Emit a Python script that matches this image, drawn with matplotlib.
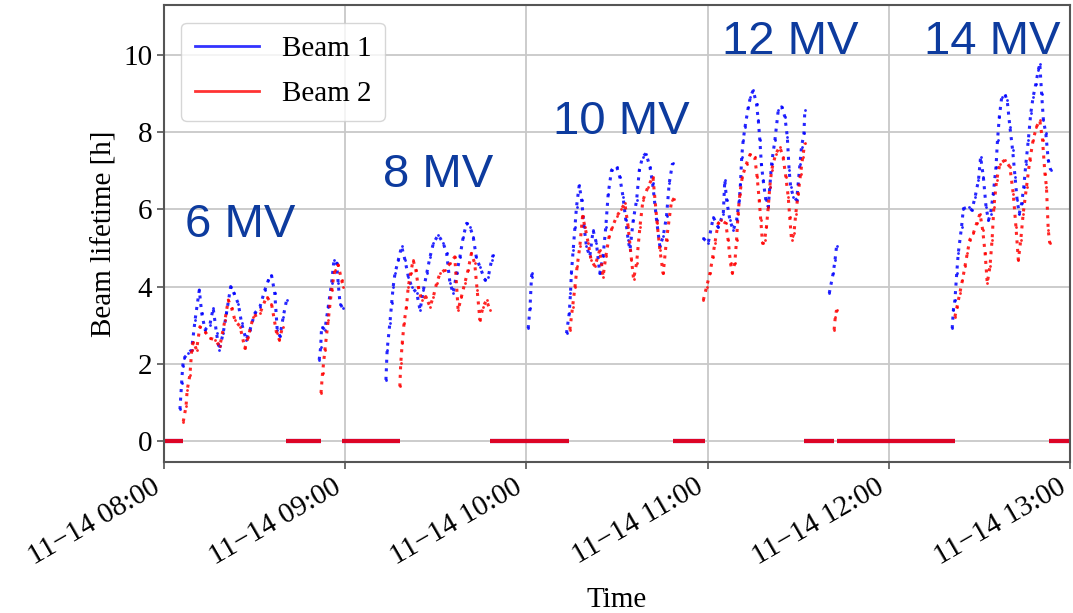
import matplotlib
matplotlib.use('Agg')
import matplotlib.pyplot as plt
import matplotlib.dates as mdates
from datetime import datetime

nan = float('nan')

# minutes after 08:00, nan splits the fills
beam1_t = [5.3, 5.85, 6.2, 6.6, 8.06, 9.16, 10.3, 11.7, 12.5, 13.6, 15.2, 16.3, 17.4, 18.3, 19.6, 20.7,
           22.1, 23.2, 24.6, 25.7, 27.2, 28.5, 30.1, 31.8, 33.4, 34.6, 35.6, 36.7, 37.5, 38.4, 39.5, 40.6, nan,
           51.4, 51.9, 52.2, 53.3, 54.4, 55.5, 56.3, 57.2, 57.7, 58.3, 59.2, nan,
           73.5, 73.9, 74.8, 75.4, 75.9, 76.5, 77.6, 78.7, 79.8, 80.9, 82.0, 83.7, 84.8, 85.9, 87.0, 88.1,
           89.2, 90.8, 92.5, 93.6, 94.7, 95.8, 96.9, 98.0, 99.1, 100.2, 101.3, 102.4, 103.4, 104.6, 106.3,
           107.4, 108.5, 109.0, nan,
           120.6, 121.2, 121.7, 121.9, nan,
           133.3, 134.2, 134.6, 134.9, 135.5, 136.1, 136.6, 137.5, 138.3, 139.1, 139.9, 141.0, 142.1, 143.2,
           144.3, 145.4, 146.3, 147.1, 148.2, 149.9, 150.9, 152.0, 152.9, 153.7, 154.3, 155.4, 156.5, 157.4,
           158.5, 159.6, 160.9, 161.8, 163.1, 164.2, 165.3, 166.4, 167.3, 168.4, nan,
           178.6, 180.2, 181.9, 183.5, 185.2, 185.7, 186.3, 187.4, 188.5, 189.6, 190.5, 190.9, 191.3, 191.8,
           192.4, 193.5, 194.2, 195.1, 196.2, 196.8, 197.3, 197.8, 198.4, 199.3, 200.1, 200.6, 201.2, 202.3,
           203.4, 204.5, 205.6, 206.4, 207.0, 207.5, 208.4, 209.5, 210.0, 210.6, 211.1, 211.9, 212.2, nan,
           220.3, 221.6, 222.2, 222.7, nan,
           261.0, 261.4, 261.9, 262.5, 263.0, 264.1, 264.7, 266.4, 267.5, 268.6, 269.7, 270.4, 271.3, 272.2,
           273.0, 273.7, 274.6, 275.5, 276.0, 276.6, 277.4, 278.5, 279.2, 280.1, 281.0, 281.8, 282.5, 283.2,
           284.0, 284.7, 285.4, 286.2, 287.0, 287.8, 288.7, 289.5, 290.0, 290.6, 291.2, 292.0, 292.8, 293.6]
beam1_v = [0.82, 1.49, 1.93, 2.14, 2.27, 2.36, 3.13, 3.91, 3.31, 2.88, 3.01, 3.44, 2.79, 2.36, 2.79, 3.31,
           4.0, 3.82, 3.56, 3.05, 2.62, 2.88, 3.31, 3.48, 3.91, 4.17, 4.3, 3.82, 2.88, 2.71, 3.22, 3.65, nan,
           2.1, 2.44, 2.96, 2.88, 3.48, 4.08, 4.69, 4.6, 4.08, 3.56, 3.44, nan,
           1.58, 2.36, 3.05, 3.57, 4.0, 4.34, 4.69, 5.04, 4.69, 4.26, 4.0, 3.83, 3.39, 3.91, 4.34, 4.77,
           5.12, 5.34, 5.12, 4.86, 4.09, 3.83, 4.34, 4.77, 5.29, 5.64, 5.55, 5.29, 4.77, 4.51, 4.17,
           4.26, 4.69, 4.82, nan,
           2.92, 3.44, 4.26, 4.34, nan,
           2.79, 3.31, 3.82, 4.34, 4.95, 5.55, 6.07, 6.63, 6.24, 5.55, 5.04, 4.78, 5.46, 5.12,
           4.34, 4.78, 5.55, 6.41, 7.02, 7.11, 6.85, 6.33, 5.73, 5.21, 4.95, 5.73, 6.24, 7.02,
           7.37, 7.45, 7.11, 6.68, 5.73, 5.04, 5.3, 5.82, 6.68, 7.2, nan,
           5.25, 5.12, 5.8, 5.54, 5.89, 6.76, 6.24, 5.72, 5.46, 5.72, 6.24, 6.67, 7.36, 7.8,
           8.14, 8.66, 8.92, 9.09, 8.74, 8.31, 7.8, 7.19, 6.76, 6.24, 6.07, 6.59, 7.19, 7.8,
           8.57, 8.66, 8.4, 7.88, 7.02, 6.59, 6.33, 6.24, 6.67, 7.19, 7.62, 7.97, 8.57, nan,
           3.83, 4.35, 4.69, 5.04, nan,
           2.92, 3.4, 3.65, 4.35, 4.86, 5.55, 6.02, 6.07, 5.98, 6.33, 6.76, 7.36, 6.85, 6.07,
           5.72, 5.89, 6.41, 7.1, 7.8, 8.4, 8.92, 8.97, 8.83, 8.14, 7.54, 6.85, 6.24, 5.89,
           6.16, 6.59, 7.19, 7.8, 8.49, 8.92, 9.26, 9.61, 9.78, 9.0, 8.31, 7.97, 7.28, 7.02]

beam2_t = [6.4, 7.3, 7.7, 8.6, 9.2, 9.7, 10.8, 11.9, 13.6, 15.2, 16.9, 18.5, 20.2, 21.3, 22.4, 23.5,
           25.2, 26.8, 27.9, 29.6, 31.8, 34.0, 35.6, 37.3, 38.2, 39.3, nan,
           52.0, 52.5, 53.3, 54.4, 55.5, 56.6, 57.7, 58.8, 59.4, nan,
           78.1, 78.4, 78.9, 79.5, 80.3, 80.9, 81.7, 82.5, 83.4, 84.2, 85.3, 86.7, 88.1, 89.2, 90.3, 91.4,
           93.0, 94.7, 96.3, 97.4, 98.5, 99.6, 100.7, 101.8, 102.9, 103.7, 104.6, 105.7, 106.8, 107.9, nan,
           134.4, 135.3, 136.1, 136.8, 137.7, 138.6, 139.4, 140.5, 141.4, 142.7, 144.3, 145.4, 146.3, 147.4,
           148.5, 149.9, 151.4, 152.6, 153.7, 154.8, 155.5, 156.5, 157.6, 158.6, 160.3, 161.9, 163.3, 164.2,
           165.3, 166.4, 168.1, 168.9, nan,
           178.6, 179.7, 180.8, 181.7, 182.4, 183.5, 184.6, 186.0, 186.8, 187.6, 188.2, 189.0, 189.6, 190.1,
           190.7, 191.5, 192.9, 194.2, 195.6, 196.4, 197.1, 197.6, 198.2, 198.9, 199.5, 200.1, 200.6, 201.2,
           202.6, 203.9, 205.0, 205.9, 206.7, 207.2, 207.8, 208.6, 209.2, 210.0, 210.8, 211.5, 212.2, nan,
           221.9, 222.3, 222.7, nan,
           261.9, 262.6, 263.5, 264.4, 265.2, 266.0, 266.8, 268.0, 269.1, 270.2, 271.1, 271.9, 272.6, 273.5,
           274.2, 274.8, 275.7, 276.8, 278.5, 280.1, 281.2, 282.1, 282.9, 283.7, 284.5, 285.6, 286.7, 287.8,
           288.9, 290.0, 290.9, 291.7, 292.2, 292.8, 293.3]
beam2_v = [0.5, 0.89, 1.32, 1.71, 2.36, 2.57, 2.36, 2.96, 2.83, 2.66, 2.62, 2.45, 3.13, 3.65, 3.44, 3.13,
           2.96, 2.40, 2.7, 3.22, 3.31, 3.74, 3.56, 2.79, 2.62, 2.96, nan,
           1.24, 1.75, 2.36, 3.13, 3.91, 4.43, 4.56, 4.17, 4.0, nan,
           1.41, 2.01, 2.53, 3.05, 3.48, 4.0, 4.34, 4.69, 4.43, 4.0, 3.65, 3.74, 3.48, 3.74, 4.09, 4.34,
           4.43, 4.6, 4.77, 3.39, 3.74, 4.09, 4.43, 4.86, 4.6, 3.91, 3.14, 3.48, 3.65, 3.39, nan,
           2.88, 3.48, 4.0, 4.52, 5.04, 5.82, 5.55, 5.12, 4.7, 4.52, 4.95, 4.26, 4.78, 5.3,
           5.55, 5.82, 6.0, 6.16, 5.55, 4.7, 4.19, 4.61, 5.55, 6.24, 6.59, 6.85, 5.64, 4.95,
           4.34, 5.21, 6.24, 6.28, nan,
           3.65, 4.0, 4.35, 4.77, 5.12, 5.64, 5.72, 5.64, 5.21, 4.6, 4.35, 4.6, 5.21, 5.89,
           6.41, 6.85, 7.19, 7.45, 7.36, 6.85, 6.24, 5.72, 5.12, 5.21, 5.55, 6.07, 6.59, 7.02,
           7.45, 7.62, 7.36, 6.85, 6.33, 5.8, 5.21, 5.38, 5.89, 6.41, 6.93, 7.36, 7.71, nan,
           2.88, 3.22, 3.39, nan,
           3.22, 3.48, 3.83, 4.17, 4.52, 4.86, 5.21, 5.38, 5.64, 5.89, 5.46, 4.86, 4.09, 4.52,
           5.21, 6.07, 6.76, 7.19, 7.28, 7.1, 6.41, 5.55, 4.69, 5.21, 5.89, 6.59, 7.28, 7.8,
           8.14, 8.31, 7.8, 6.93, 6.59, 5.46, 5.12]

# no beam: lifetime logged as 0
zero_start = [0.0, 40.4, 59.0, 108.0, 168.5, 212.0, 223.0, 293.0]
zero_end = [6.3, 52.0, 78.0, 134.0, 179.0, 222.0, 262.0, 300.0]

volt_labels = ['6 MV', '8 MV', '10 MV', '12 MV', '14 MV']
volt_t = [25.2, 90.7, 151.6, 207.3, 274.2]
volt_v = [5.6, 6.9, 8.26, 10.34, 10.34]

t0 = mdates.date2num(datetime(2021, 11, 14, 8, 0))


def to_date(mins):
    return [t0 + m / 1440.0 for m in mins]


plt.rcParams['font.family'] = ['Liberation Serif', 'DejaVu Serif']
plt.rcParams['font.size'] = 21

fig = plt.figure(figsize=(10.73, 6.13), dpi=100)
ax = fig.add_axes([0.1528, 0.2463, 0.8444, 0.7455])

for c, t, v in [('blue', beam1_t, beam1_v), ('red', beam2_t, beam2_v)]:
    ax.plot(to_date(t), v, color=c, alpha=0.85, ls=(0, (1, 1.8)), lw=2.2,
            marker='.', ms=4, mew=0)
    ax.hlines([0] * len(zero_start), to_date(zero_start), to_date(zero_end),
              color=c, lw=3, alpha=0.85)

ax.plot([], [], color='blue', alpha=0.8, lw=2, label='Beam 1')
ax.plot([], [], color='red', alpha=0.8, lw=2, label='Beam 2')
ax.legend(loc='upper left', handlelength=2.2, borderaxespad=0.6, labelspacing=0.65,
          borderpad=0.45)

for s, t, v in zip(volt_labels, volt_t, volt_v):
    ax.text(to_date([t])[0], v, s, color='#0d3b9e', fontsize=34, family='Liberation Sans',
            ha='center', va='center')

ax.set_xlim(t0, to_date([300])[0])
ax.set_ylim(-0.55, 11.3)
ax.set_yticks([0, 2, 4, 6, 8, 10])
ax.xaxis.set_major_locator(mdates.HourLocator())
ax.xaxis.set_major_formatter(mdates.DateFormatter('%m\u2212%d %H:%M'))
plt.setp(ax.get_xticklabels(), rotation=30, ha='right')
ax.grid(color='#c8c8c8', lw=1.3)
for sp in ax.spines.values():
    sp.set_color('#555555')
    sp.set_linewidth(1.5)
ax.tick_params(color='#555555', width=1.2, length=5)
ax.set_xlabel('Time', labelpad=12)
ax.set_ylabel('Beam lifetime [h]')

fig.savefig('out.png', dpi=100)
